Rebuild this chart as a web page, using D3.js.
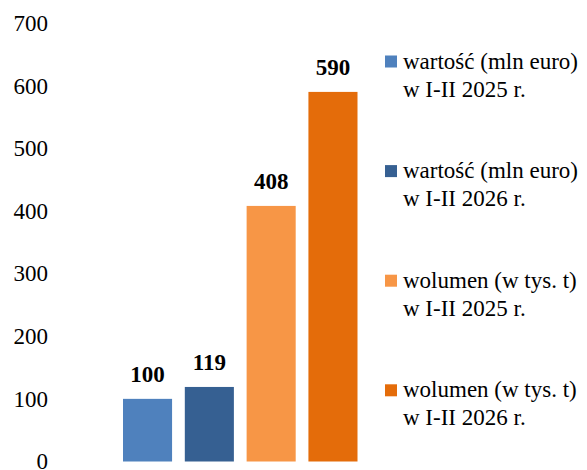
<!DOCTYPE html>
<html lang="pl">
  <head>
    <meta charset="UTF-8" />
    <title>Wartość i wolumen I-II 2025 / 2026</title>
    <style>
      body {
        margin: 0;
        background: #fff;
      }
      svg text {
        font-family: "Liberation Serif", "DejaVu Serif", serif;
        fill: #000;
      }
    </style>
  </head>
  <body>
    <div id="chart"></div>

    <script src="https://d3js.org/d3.v7.min.js"></script>
    <script>
      // data
      const categories = [
        "wartość (mln euro) w I-II 2025 r.",
        "wartość (mln euro) w I-II 2026 r.",
        "wolumen (w tys. t) w I-II 2025 r.",
        "wolumen (w tys. t) w I-II 2026 r.",
      ];
      const values = [100, 119, 408, 590];
      const colors = ["#4F81BD", "#366092", "#F79646", "#E46C0A"];
      const legendLines = [
        ["wartość (mln euro)", "w I-II 2025 r."],
        ["wartość (mln euro)", "w I-II 2026 r."],
        ["wolumen (w tys. t)", "w I-II 2025 r."],
        ["wolumen (w tys. t)", "w I-II 2026 r."],
      ];
      const yTicks = [0, 100, 200, 300, 400, 500, 600, 700];

      const w = 587;
      const h = 470;
      const font = '"Liberation Serif", "DejaVu Serif", serif';

      const svg = d3
        .select("#chart")
        .append("svg")
        .attr("width", w)
        .attr("height", h)
        .attr("font-family", font);

      // scales
      const x = d3
        .scaleBand()
        .domain(categories)
        .range([123, 357.5])
        .paddingInner(0.206)
        .paddingOuter(0);

      const y = d3.scaleLinear().domain([0, 700]).range([461.5, 23]);

      // y axis, labels only
      const yAxis = svg
        .append("g")
        .attr("transform", "translate(48,0)")
        .call(d3.axisLeft(y).tickValues(yTicks).tickSize(0).tickPadding(0))
        .attr("font-family", font)
        .attr("font-size", 23);
      yAxis.select(".domain").remove();
      yAxis.selectAll("text").attr("fill", "#000");

      // bars
      svg
        .selectAll("rect.bar")
        .data(values)
        .enter()
        .append("rect")
        .attr("class", "bar")
        .attr("x", (d, i) => x(categories[i]))
        .attr("y", (d) => y(d))
        .attr("width", x.bandwidth())
        .attr("height", (d) => y(0) - y(d))
        .attr("fill", (d, i) => colors[i]);

      // value labels
      svg
        .selectAll("text.val")
        .data(values)
        .enter()
        .append("text")
        .attr("class", "val")
        .attr("x", (d, i) => x(categories[i]) + x.bandwidth() / 2)
        .attr("y", (d) => y(d) - 17)
        .attr("text-anchor", "middle")
        .attr("font-size", 23)
        .attr("font-weight", "bold")
        .text((d) => d);

      // legend
      const legend = svg
        .selectAll("g.legend")
        .data(legendLines)
        .enter()
        .append("g")
        .attr("class", "legend")
        .attr("transform", (d, i) => `translate(385,${68.5 + i * 109.6})`);

      legend
        .append("rect")
        .attr("x", 0)
        .attr("y", -13)
        .attr("width", 12)
        .attr("height", 12)
        .attr("fill", (d, i) => colors[i]);

      const lt = legend
        .append("text")
        .attr("x", 18)
        .attr("y", 0)
        .attr("font-size", 23);
      lt.append("tspan")
        .attr("x", 18)
        .attr("dy", 0)
        .text((d) => d[0]);
      lt.append("tspan")
        .attr("x", 18)
        .attr("dy", 28)
        .text((d) => d[1]);
    </script>
  </body>
</html>
